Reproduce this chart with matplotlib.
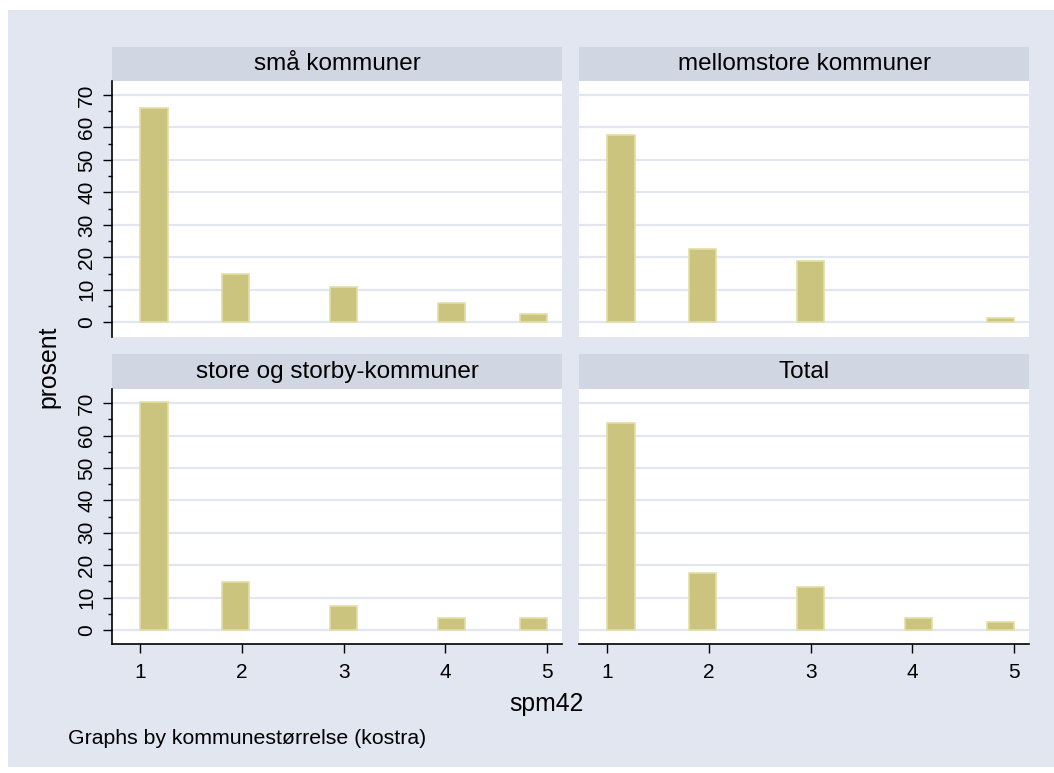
import matplotlib.pyplot as plt
import numpy as np
from matplotlib.patches import Rectangle

plt.rcParams["font.family"] = ["Liberation Sans", "DejaVu Sans"]

W, H = 1054, 773

# answers to spm42 (1-5), percent within each municipality group
categories = [1, 2, 3, 4, 5]
group_names = ["små kommuner", "mellomstore kommuner", "store og storby-kommuner", "Total"]
pct_sma = [66.1, 15.0, 10.8, 5.9, 2.6]
pct_mellomstore = [57.6, 22.6, 18.8, 0.0, 1.2]
pct_store = [70.4, 14.8, 7.3, 3.7, 3.7]
pct_total = [63.8, 17.7, 13.1, 3.6, 2.3]
n_bins = 15

BG = "#E1E6F0"
STRIP = "#D0D7E2"
BAR = "#CBC47E"
BAR_EDGE = "#E4DEA6"


def px_axes(fig, x0, y0, x1, y1, **kw):
    """Add axes from pixel box (top-left origin)."""
    return fig.add_axes([x0 / W, 1 - y1 / H, (x1 - x0) / W, (y1 - y0) / H], **kw)


fig = plt.figure(figsize=(W / 100, H / 100), dpi=100, facecolor="white")
fig.patches.append(Rectangle((8 / W, 6 / H), 1 - 8 / W, (767 - 10) / H,
                             transform=fig.transFigure, facecolor=BG, edgecolor="none",
                             zorder=-10))

boxes = [
    (112, 562, 46.7, 80.7, 336.7),
    (579, 1029, 46.7, 80.7, 336.7),
    (112, 562, 354.3, 389.0, 644.3),
    (579, 1029, 354.3, 389.0, 644.3),
]
series = [pct_sma, pct_mellomstore, pct_store, pct_total]
edges = np.linspace(1, 5, n_bins + 1)

for i, ((x0, x1, s0, p0, p1), name, vals) in enumerate(zip(boxes, group_names, series)):
    strip = px_axes(fig, x0, s0, x1, p0)
    strip.set_facecolor(STRIP)
    strip.set_xticks([])
    strip.set_yticks([])
    for sp in strip.spines.values():
        sp.set_visible(False)
    strip.text(0.5, 0.5, name, ha="center", va="center", fontsize=17.5,
               transform=strip.transAxes)

    ax = px_axes(fig, x0, p0, x1, p1)
    ax.set_facecolor("white")
    h, _ = np.histogram(categories, bins=edges, weights=vals)
    keep = h > 0
    ax.bar(edges[:-1][keep], h[keep], width=np.diff(edges)[keep], align="edge",
           color=BAR, edgecolor=BAR_EDGE, linewidth=1.2, zorder=3)

    ax.set_xlim(0.72, 5.15)
    ax.set_ylim(-4.45, 74.4)
    ax.set_yticks(range(0, 71, 10))
    ax.set_yticks(range(5, 70, 10), minor=True)
    ax.set_xticks(categories)
    ax.grid(axis="y", which="major", color=BG, linewidth=1.6, zorder=1)
    ax.set_axisbelow(True)
    for sp in ax.spines.values():
        sp.set_visible(False)

    left = i % 2 == 0
    bottom = i >= 2
    if left:
        ax.spines["left"].set_visible(True)
        ax.spines["left"].set_linewidth(1.2)
        ax.tick_params(axis="y", which="major", length=6.5, width=1.0, pad=5,
                       labelsize=15, labelrotation=90)
        ax.tick_params(axis="y", which="minor", length=3.2, width=1.0)
        for lab in ax.get_yticklabels():
            lab.set_va("center")
    else:
        ax.tick_params(axis="y", which="both", length=0, labelleft=False)
    if bottom:
        ax.spines["bottom"].set_visible(True)
        ax.spines["bottom"].set_linewidth(1.2)
        ax.tick_params(axis="x", length=6.5, width=1.0, pad=7, labelsize=15)
    else:
        ax.tick_params(axis="x", length=0, labelbottom=False)

fig.text(546 / W, 1 - 711 / H, "spm42", ha="center", va="baseline", fontsize=17.8)
fig.text(48 / W, 1 - 367 / H, "prosent", ha="center", va="center", rotation=90, fontsize=17.8)
fig.text(68 / W, 1 - 743.5 / H, "Graphs by kommunestørrelse (kostra)", ha="left",
         va="baseline", fontsize=15.3)

fig.savefig("out.png", dpi=100, facecolor=fig.get_facecolor())
